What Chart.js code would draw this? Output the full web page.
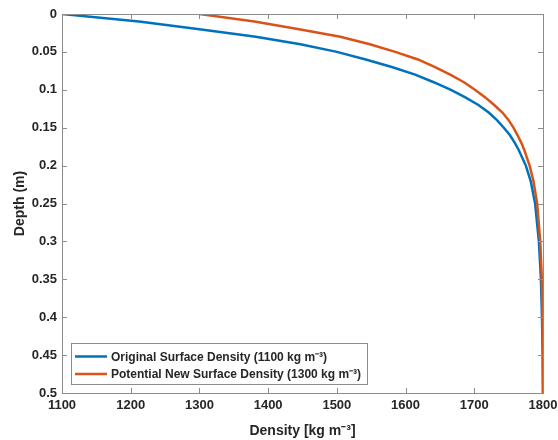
<!DOCTYPE html>
<html>
<head>
<meta charset="utf-8">
<script src="https://cdn.jsdelivr.net/npm/chart.js@4"></script>
<style>
html,body{margin:0;padding:0;background:#fff;}
#c{display:block;}
</style>
</head>
<body>
<canvas id="c" width="558" height="440"></canvas>
<script>
// ---- data ----
const depths = [0, 0.01, 0.02, 0.03, 0.04, 0.05, 0.06, 0.07, 0.08, 0.09, 0.10, 0.11, 0.12, 0.13, 0.14, 0.15, 0.16, 0.17, 0.18, 0.20, 0.22, 0.25, 0.30, 0.35, 0.40, 0.45, 0.50];
const originalDensity = [1100, 1212, 1300, 1382, 1447, 1500, 1542, 1580, 1614, 1641, 1666, 1687, 1706, 1721, 1733, 1743, 1752, 1759, 1765, 1775, 1782, 1788.5, 1794, 1797, 1798.5, 1799.5, 1800];
const newDensity = [1300, 1380, 1445, 1505, 1548, 1585, 1618, 1643, 1665, 1685, 1701, 1716, 1729, 1741, 1750, 1757, 1763, 1768.5, 1773, 1780.5, 1786, 1791.5, 1796, 1798.3, 1799.3, 1799.8, 1800];
const seriesLabels = ['Original Surface Density (1100 kg m\u207B\u00B3)', 'Potential New Surface Density (1300 kg m\u207B\u00B3)'];
const xTicks = [1100, 1200, 1300, 1400, 1500, 1600, 1700, 1800];
const yTicks = [0, 0.05, 0.1, 0.15, 0.2, 0.25, 0.3, 0.35, 0.4, 0.45, 0.5];
const xTitle = 'Density [kg m\u207B\u00B3]';
const yTitle = 'Depth (m)';

const FONT = '"Liberation Sans", Arial, Helvetica, sans-serif';
const TXT = '#262626';
const AX = '#8c8c8c';
const colors = ['#0072BD', '#D95319'];

const toPts = (xs) => xs.map((v, i) => ({x: v, y: depths[i]}));

const boxPlugin = {
  id: 'boxPlugin',
  afterDraw(chart) {
    const {ctx, chartArea: a, scales} = chart;
    ctx.save();
    ctx.strokeStyle = AX;
    ctx.lineWidth = 1;
    ctx.strokeRect(Math.round(a.left) + 0.5, Math.round(a.top) + 0.5, Math.round(a.right - a.left), Math.round(a.bottom - a.top));
    const tl = 5;
    ctx.beginPath();
    scales.x.ticks.forEach(t => {
      const px = Math.round(scales.x.getPixelForValue(t.value)) + 0.5;
      ctx.moveTo(px, a.bottom); ctx.lineTo(px, a.bottom - tl);
      ctx.moveTo(px, a.top); ctx.lineTo(px, a.top + tl);
    });
    scales.y.ticks.forEach(t => {
      const py = Math.round(scales.y.getPixelForValue(t.value)) + 0.5;
      ctx.moveTo(a.left, py); ctx.lineTo(a.left + tl, py);
      ctx.moveTo(a.right, py); ctx.lineTo(a.right - tl, py);
    });
    ctx.stroke();

    // legend box (bottom-left inside plot area)
    const lx = a.left + 9, lw = 296, lh = 41;
    const ly = a.bottom - 9 - lh;
    ctx.fillStyle = '#fff';
    ctx.fillRect(lx, ly, lw, lh);
    ctx.strokeStyle = AX;
    ctx.strokeRect(lx + 0.5, ly + 0.5, lw, lh);
    ctx.font = 'bold 12px ' + FONT;
    ctx.textBaseline = 'middle';
    chart.data.datasets.forEach((ds, i) => {
      const cy = ly + 13.5 + i * 17.5;
      ctx.strokeStyle = ds.borderColor;
      ctx.lineWidth = 2.5;
      ctx.beginPath();
      ctx.moveTo(lx + 4, cy); ctx.lineTo(lx + 36, cy);
      ctx.stroke();
      ctx.fillStyle = TXT;
      ctx.fillText(ds.label, lx + 40, cy + 1);
    });
    ctx.restore();
  }
};

new Chart(document.getElementById('c'), {
  type: 'scatter',
  data: {
    datasets: [
      {label: seriesLabels[0], data: toPts(originalDensity), borderColor: colors[0], backgroundColor: colors[0], showLine: true, pointRadius: 0, borderWidth: 2.5, tension: 0, order: 1},
      {label: seriesLabels[1], data: toPts(newDensity), borderColor: colors[1], backgroundColor: colors[1], showLine: true, pointRadius: 0, borderWidth: 2.5, tension: 0, order: 0}
    ]
  },
  options: {
    responsive: false,
    animation: false,
    devicePixelRatio: 1,
    layout: {padding: {top: 14, right: 15, left: 0, bottom: 0}},
    plugins: {legend: {display: false}, tooltip: {enabled: false}},
    scales: {
      x: {
        type: 'linear', min: 1100, max: 1800,
        afterBuildTicks: s => { s.ticks = xTicks.map(v => ({value: v})); },
        afterFit: s => { s.height = 47; s.paddingLeft = 0; s.paddingRight = 0; },
        grid: {display: false, drawTicks: false},
        border: {display: false},
        ticks: {color: TXT, font: {family: FONT, size: 13, weight: 'bold'}, padding: 5, maxRotation: 0, callback: v => String(v)},
        title: {display: true, text: xTitle, color: TXT, font: {family: FONT, size: 14, weight: 'bold'}, padding: {top: 2, bottom: 0}}
      },
      y: {
        type: 'linear', min: 0, max: 0.5, reverse: true,
        afterBuildTicks: s => { s.ticks = yTicks.map(v => ({value: v})); },
        afterFit: s => { s.width = 62; s.paddingTop = 0; s.paddingBottom = 0; },
        grid: {display: false, drawTicks: false},
        border: {display: false},
        ticks: {color: TXT, font: {family: FONT, size: 13, weight: 'bold'}, padding: 5, callback: v => String(+(+v).toFixed(2))},
        title: {display: true, text: yTitle, color: TXT, font: {family: FONT, size: 14, weight: 'bold'}, padding: {top: 12, bottom: 0}}
      }
    }
  },
  plugins: [boxPlugin]
});
</script>
</body>
</html>
